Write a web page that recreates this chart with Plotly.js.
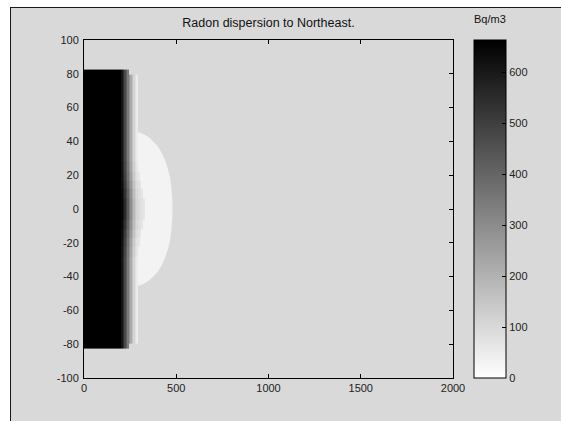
<!DOCTYPE html>
<html>
<head>
<meta charset="utf-8">
<script src="https://cdn.plot.ly/plotly-3.0.1.min.js"></script>
<style>
  html, body { margin: 0; padding: 0; background: #ffffff; width: 561px; height: 421px; overflow: hidden; }
  #chart { position: absolute; left: 10px; top: 7px; width: 550px; height: 413px;
           border-left: 1px solid #1a1a1a; border-top: 1px solid #1a1a1a; background: #d9d9d9; }
</style>
</head>
<body>
<div id="chart"></div>
<script>
// Grid cell edges (metres downwind x, crosswind y)
const xEdges = [0, 203, 211, 219, 227, 235, 243, 251, 259, 267, 275, 283, 294, 302, 310, 318, 326, 332];
const yEdges = [-82.5, -79.5, -28, -22, -17, -12, -6, 6, 12, 17, 22, 28, 79.5, 82.5];

// Concentration (Bq/m3) per row band, read from the grey levels
const zRowEdge   = [700, 610, 544, 477, 411, 345, null, null, null, null, null, null, null, null, null, null, null];
const zRowOuter  = [700, 610, 544, 477, 411, 345, 278, 219, 159, 113, 80, 53, null, null, null, null, null];
const zRow22     = [700, 615, 552, 487, 421, 356, 291, 232, 172, 126, 92, 64, null, null, null, null, null];
const zRow17     = [700, 622, 562, 497, 432, 367, 302, 242, 185, 137, 102, 76, 62, null, null, null, null];
const zRow12     = [700, 632, 576, 513, 450, 386, 322, 262, 204, 155, 118, 90, 75, 66, null, null, null];
const zRow6      = [700, 642, 592, 533, 472, 408, 343, 282, 223, 172, 132, 102, 86, 76, 68, null, null];
const zRowCenter = [700, 650, 605, 550, 490, 425, 360, 295, 235, 182, 140, 110, 93, 84, 76, 70, 64];

// Low-level plume outline (about 30 Bq/m3)
const plumeLevel = 30;
const plumeX = [293, 330, 357, 380, 402, 422, 439, 454, 466, 474, 479, 480, 479, 474, 466, 454, 439, 422, 402, 380, 357, 330, 293];
const plumeY = [45.5, 44, 41.8, 39.5, 36.9, 33, 29, 24, 19, 12, 5, 0, -5, -12, -19, -24, -29, -33, -37, -39.5, -41.8, -44, -45.5];

const xTicks = [0, 500, 1000, 1500, 2000];
const xTickText = ['0', '500', '1000', '1500', '2000'];
const yTicks = [-100, -80, -60, -40, -20, 0, 20, 40, 60, 80, 100];
const yTickText = ['-100', '-80', '-60', '-40', '-20', '0', '20', '40', '60', '80', '100'];
const cbTicks = [0, 100, 200, 300, 400, 500, 600];
const zMax = 663;

const zGrid = [zRowEdge, zRowOuter, zRow22, zRow17, zRow12, zRow6, zRowCenter,
               zRow6, zRow12, zRow17, zRow22, zRowOuter, zRowEdge];

const g = Math.round(255 * (1 - plumeLevel / zMax));
const plumeColor = 'rgb(' + g + ',' + g + ',' + g + ')';

const font = 'Liberation Sans, Arial, sans-serif';

const traces = [
  {
    type: 'scatter', x: plumeX, y: plumeY, mode: 'none', fill: 'toself',
    fillcolor: plumeColor, hoverinfo: 'skip', showlegend: false, xaxis: 'x', yaxis: 'y'
  },
  {
    type: 'heatmap', x: xEdges, y: yEdges, z: zGrid, zmin: 0, zmax: zMax,
    zsmooth: false, xaxis: 'x2', yaxis: 'y2',
    colorscale: [[0, '#ffffff'], [1, '#000000']],
    colorbar: {
      thickness: 32, thicknessmode: 'pixels', len: 1, lenmode: 'fraction',
      x: 1.0577, xanchor: 'left', xref: 'paper', y: 0.5, yanchor: 'middle', yref: 'paper',
      xpad: 0, ypad: 0, outlinecolor: '#000', outlinewidth: 1,
      tickvals: cbTicks, ticks: 'inside', ticklen: 4, tickcolor: '#000',
      tickfont: { family: font, size: 11, color: '#222' }
    }
  }
];

const axisCommon = {
  showgrid: false, zeroline: false, showline: true, linecolor: '#000', linewidth: 1,
  mirror: 'allticks', ticks: 'inside', ticklen: 4, tickcolor: '#000',
  tickfont: { family: font, size: 11, color: '#222' }, fixedrange: true
};

const layout = {
  width: 550, height: 413,
  margin: { l: 73, r: 108, t: 32, b: 43 },
  paper_bgcolor: '#d9d9d9', plot_bgcolor: '#d9d9d9',
  showlegend: false,
  title: {
    text: 'Radon dispersion to Northeast.', font: { family: font, size: 12.5, color: '#111' },
    x: 0.5, xref: 'paper', xanchor: 'center', y: 1 - 15 / 413, yref: 'container', yanchor: 'middle'
  },
  xaxis: Object.assign({}, axisCommon, { range: [0, 2000], tickvals: xTicks, ticktext: xTickText }),
  yaxis: Object.assign({}, axisCommon, { range: [-100, 100], tickvals: yTicks, ticktext: yTickText, ticklabelstandoff: 2 }),
  xaxis2: { overlaying: 'x', anchor: 'y2', range: [0, 2000], visible: false, fixedrange: true },
  yaxis2: { overlaying: 'y', anchor: 'x2', range: [-100, 100], visible: false, fixedrange: true },
  annotations: [{
    text: 'Bq/m3', xref: 'paper', yref: 'paper', x: 1.1016, y: 1.0636,
    xanchor: 'center', yanchor: 'middle', showarrow: false,
    font: { family: font, size: 11, color: '#111' }
  }]
};

Plotly.newPlot('chart', traces, layout, { displayModeBar: false, staticPlot: true });
</script>
</body>
</html>
